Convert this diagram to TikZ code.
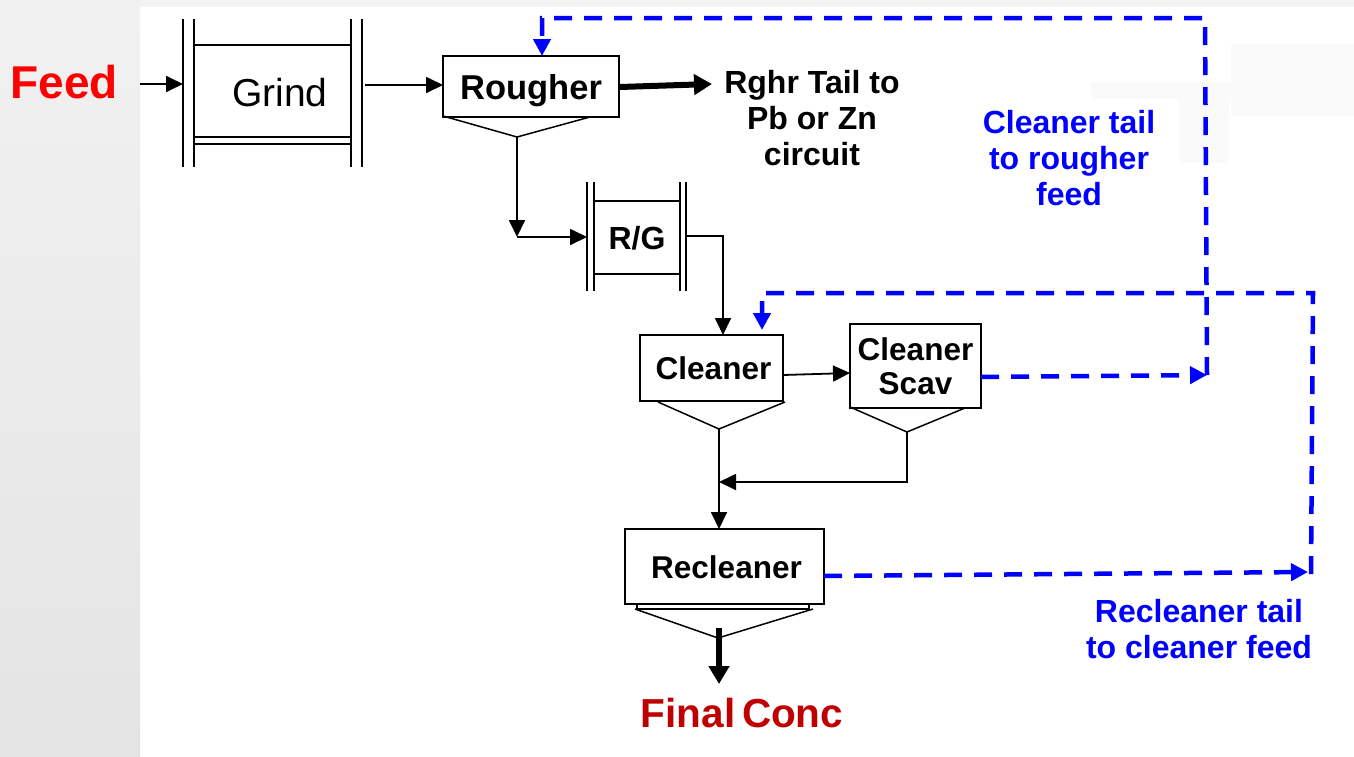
\documentclass[tikz,border=0pt]{standalone}
\usepackage{fontspec}
\setmainfont{Liberation Sans}
\usetikzlibrary{arrows.meta}
\definecolor{feedred}{HTML}{FF0000}
\definecolor{concred}{HTML}{C00000}
\definecolor{flowblue}{HTML}{0000FF}
\definecolor{topgray}{HTML}{F3F3F3}
\definecolor{faintgray}{HTML}{FAFAFA}
\begin{document}
\begin{tikzpicture}[x=1pt,y=-1pt,
  unitbox/.style={draw=black, line width=1.8pt, fill=white, inner sep=0pt, text depth=0pt,
     font=\fontsize{32}{34}\selectfont\bfseries},
  flow/.style={draw=black, line width=1.8pt, -{Triangle[length=17pt,width=16pt]}},
  heavyflow/.style={draw=black, line width=6pt, -{Triangle[length=18pt,width=20pt]}},
  recycle/.style={draw=flowblue, line width=4.5pt, dash pattern=on 18pt off 12pt,
     -{Triangle[length=17pt,width=17pt]}},
  frame/.style={draw=black, line width=1.8pt},
  bluetext/.style={text=flowblue, align=center, font=\fontsize{32}{36}\selectfont\bfseries},
  blacktext/.style={text=black, align=center, font=\fontsize{32}{36}\selectfont\bfseries}
]
\useasboundingbox (0,0) rectangle (1354,756);
% background
\fill[white] (0,0) rectangle (1354,756);
\fill[topgray] (0,0) rectangle (1354,7);
\shade[top color={rgb,255:red,241;green,241;blue,241}, bottom color={rgb,255:red,228;green,228;blue,228}] (0,0) rectangle (140,756);
\fill[faintgray] (1091,82) rectangle (1231,99);
\fill[faintgray] (1179,99) rectangle (1229,163);
\fill[faintgray] (1231,44) rectangle (1354,116);

% ---------- Feed ----------
\node[anchor=base, text=feedred, font=\fontsize{46}{50}\selectfont\bfseries, inner sep=0pt] (feed) at (64,98) {Feed};

% ---------- Grind ----------
\node[unitbox, minimum width=157pt, minimum height=92pt, text height=30pt,
      font=\fontsize{39}{42}\selectfont] (grind) at (272.5,91) {\hspace*{15pt}Grind};
\draw[frame] (194,144) -- (351,144);
\draw[frame] (183,19) -- (183,167);
\draw[frame] (194,19) -- (194,167);
\draw[frame] (351,19) -- (351,167);
\draw[frame] (362,19) -- (362,167);

% ---------- Rougher ----------
\node[unitbox, minimum width=176pt, minimum height=61pt, text height=25pt,
      font=\fontsize{34.5}{36}\selectfont\bfseries] (rougher) at (531,86.5) {Rougher};
\coordinate (rapex) at (517,137);
\draw[frame, line width=1.5pt] (443,116) -- (rapex) -- (590,117);

% ---------- R/G ----------
\node[unitbox, minimum width=86pt, minimum height=73pt, text height=23pt] (rg) at (637,237.5) {R/G};
\draw[frame] (587,182) -- (587,291);
\draw[frame] (594,182) -- (594,291);
\draw[frame] (680,182) -- (680,291);
\draw[frame] (686,182) -- (686,291);

% ---------- Cleaner ----------
\node[unitbox, minimum width=143pt, minimum height=66pt, text height=22pt,
      font=\fontsize{31.5}{34}\selectfont\bfseries] (cleaner) at (711.5,368) {\hspace*{4pt}Cleaner};
\coordinate (capex) at (719,429);
\draw[frame, line width=1.5pt] (658,402) -- (capex) -- (785,402);

% ---------- Cleaner Scav ----------
\node[unitbox, minimum width=131pt, minimum height=84pt, align=center, text depth=,
      font=\fontsize{31.5}{34}\selectfont\bfseries] (scav) at (915.5,366) {Cleaner\\Scav};
\coordinate (sapex) at (907,432);
\draw[frame, line width=1.5pt] (850,407) -- (sapex) -- (965,408);

% ---------- Recleaner ----------
\node[unitbox, minimum width=199pt, minimum height=75pt, text height=23pt,
      font=\fontsize{31.5}{34}\selectfont\bfseries] (recleaner) at (724.5,566.5) {\hspace*{4pt}Recleaner};
\draw[frame, line width=1.5pt] (637,604) rectangle (809,609);
\coordinate (reapex) at (718,638);
\draw[frame, line width=1.5pt] (635,609) -- (reapex) -- (813,609);

% ---------- Final Conc ----------
\node[anchor=base, text=concred, font=\fontsize{40.5}{44}\selectfont\bfseries, inner sep=0pt] (conc) at (742,727) {Final\,Conc};

% ---------- text labels ----------
\node[blacktext, inner sep=0pt] (tail) at (812,118.5) {Rghr Tail to\\Pb or Zn\\circuit};
\node[bluetext, inner sep=0pt] (lbl1) at (1069,158.5) {Cleaner tail\\to rougher\\feed};
\node[bluetext, inner sep=0pt] (lbl2) at (1199,629) {Recleaner tail\\to cleaner feed};

% ---------- connectors ----------
\coordinate (feedout) at (140,84);
\coordinate (grindin) at (183,84);
\coordinate (grindout) at (365,85);
\coordinate (rin) at (443,85);
\draw[flow] (feedout) -- (grindin);
\draw[flow] (grindout) -- (rin);

\coordinate (rtailend) at (712,84);
\draw[heavyflow] (rougher.east) ++(0,0.5) -- (rtailend);

\coordinate (rcorner) at (517,237);
\coordinate (rgin) at (587,237);
\draw[flow] (rapex) -- (rcorner);
\draw[flow] (rcorner) -- (rgin);

\coordinate (rgout) at (686,236);
\coordinate (cleanerin) at (723,335);
\draw[flow] (rgout) -| (cleanerin);

\coordinate (cleanerout) at (783,375);
\coordinate (scavin) at (850,373);
\draw[flow] (cleanerout) -- (scavin);

\coordinate (recleanerin) at (719,529);
\draw[flow] (capex) -- (recleanerin);
\coordinate (merge) at (719,482);
\draw[flow] (sapex) |- (merge);

\coordinate (concend) at (719,684);
\draw[heavyflow] (719,628) -- (concend);

% ---------- recycle (blue dashed) ----------
\coordinate (scavout) at (981,377);
\coordinate (loopAcorner) at (1207,375);
\coordinate (loopAtop) at (1205,18);
\coordinate (roughertop) at (542,56);
\draw[recycle] (scavout) -- (loopAcorner);
\draw[recycle] (loopAcorner) -- (loopAtop) -- (542,18) -- (roughertop);

\coordinate (recleanerout) at (824,576);
\coordinate (loopBcorner) at (1308,572);
\coordinate (loopBtop) at (1313,293);
\coordinate (cleanertop) at (762,330);
\draw[recycle] (recleanerout) -- (loopBcorner);
\draw[recycle] (1311,574) -- (loopBtop) -- (762,293) -- (cleanertop);
\end{tikzpicture}
\end{document}
